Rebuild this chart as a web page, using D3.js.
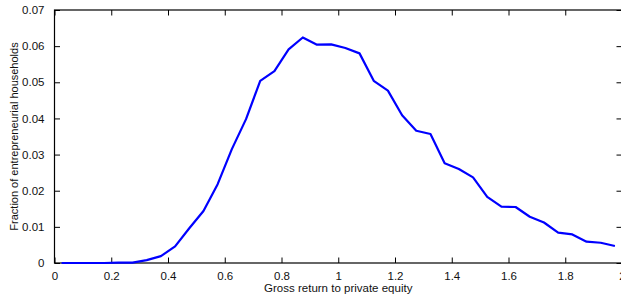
<!DOCTYPE html>
<html>
<head>
<meta charset="utf-8">
<script src="https://cdn.jsdelivr.net/npm/d3@7"></script>
<style>
  body { margin: 0; background: #fff; }
  svg { display: block; font-family: "Liberation Sans", Arial, sans-serif; }
</style>
</head>
<body>
<svg id="chart" width="621" height="297"></svg>
<script>
// bin midpoints of gross return
const returns = [0.025, 0.075, 0.125, 0.175, 0.225, 0.275, 0.325, 0.375, 0.425, 0.475,
  0.525, 0.575, 0.625, 0.675, 0.725, 0.775, 0.825, 0.875, 0.925, 0.975,
  1.025, 1.075, 1.125, 1.175, 1.225, 1.275, 1.325, 1.375, 1.425, 1.475,
  1.525, 1.575, 1.625, 1.675, 1.725, 1.775, 1.825, 1.875, 1.925, 1.975];
const fractions = [0, 0, 0, 0, 0.0001, 0.0001, 0.0008, 0.0019, 0.0046, 0.0096,
  0.0144, 0.0218, 0.0315, 0.0398, 0.0504, 0.0531, 0.0591, 0.0624, 0.0604, 0.0605,
  0.0595, 0.0580, 0.0504, 0.0477, 0.0409, 0.0366, 0.0357, 0.0276, 0.0260, 0.0237,
  0.0183, 0.0156, 0.0155, 0.0128, 0.0112, 0.0084, 0.0079, 0.0059, 0.0056, 0.0047];
const xTicks = [0, 0.2, 0.4, 0.6, 0.8, 1, 1.2, 1.4, 1.6, 1.8, 2];
const yTicks = [0, 0.01, 0.02, 0.03, 0.04, 0.05, 0.06, 0.07];

const svg = d3.select("#chart");
const mLeft = 54.5, mRight = 622, mTop = 10, mBottom = 263;

const x = d3.scaleLinear().domain([0, 2]).range([mLeft, mRight]);
const y = d3.scaleLinear().domain([0, 0.07]).range([mBottom, mTop]);

const fmt = d => String(+d.toFixed(2));

// bottom axis (ticks inward)
svg.append("g")
  .attr("transform", `translate(0,${mBottom})`)
  .call(d3.axisBottom(x).tickValues(xTicks).tickSize(-5.5).tickPadding(9).tickFormat(fmt))
  .call(g => g.select(".domain").remove());

// top axis ticks
svg.append("g")
  .attr("transform", `translate(0,${mTop})`)
  .call(d3.axisTop(x).tickValues(xTicks).tickSize(-5.5).tickFormat(""))
  .call(g => g.select(".domain").remove());

// left axis
svg.append("g")
  .attr("transform", `translate(${mLeft},0)`)
  .call(d3.axisLeft(y).tickValues(yTicks).tickSize(-5.5).tickPadding(10).tickFormat(fmt))
  .call(g => g.select(".domain").remove());

// right axis ticks
svg.append("g")
  .attr("transform", `translate(${mRight},0)`)
  .call(d3.axisRight(y).tickValues(yTicks).tickSize(-5.5).tickFormat(""))
  .call(g => g.select(".domain").remove());

svg.selectAll(".tick line").attr("stroke", "#000").attr("stroke-width", 1);
svg.selectAll(".tick text").attr("font-size", 11.5).attr("fill", "#111")
  .attr("font-family", "Liberation Sans, Arial, sans-serif");

// frame
svg.append("rect")
  .attr("x", mLeft).attr("y", mTop)
  .attr("width", mRight - mLeft).attr("height", mBottom - mTop)
  .attr("fill", "none").attr("stroke", "#000").attr("stroke-width", 1.2);

// the curve
const line = d3.line().x((d, i) => x(returns[i])).y(d => y(d));
svg.append("path")
  .datum(fractions)
  .attr("d", line)
  .attr("fill", "none")
  .attr("stroke", "#0000ff")
  .attr("stroke-width", 2.2)
  .attr("stroke-linejoin", "round");

// axis labels
svg.append("text")
  .attr("x", x(1)).attr("y", 292)
  .attr("text-anchor", "middle").attr("font-size", 11.5).attr("fill", "#111")
  .text("Gross return to private equity");

svg.append("text")
  .attr("transform", `translate(18,${(mTop + mBottom) / 2}) rotate(-90)`)
  .attr("text-anchor", "middle").attr("font-size", 11).attr("fill", "#111")
  .text("Fraction of entrepreneurial households");
</script>
</body>
</html>
